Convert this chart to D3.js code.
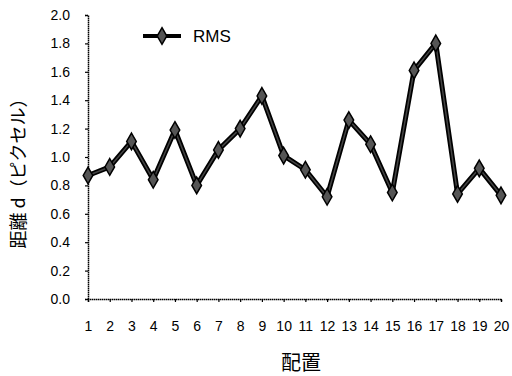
<!DOCTYPE html>
<html>
<head>
<meta charset="utf-8">
<script src="https://cdn.jsdelivr.net/npm/d3@7"></script>
<style>
	body { margin: 0; background: #fff; }
	text { font-family: "Liberation Sans", Arial, sans-serif; fill: #000; }
	.jp { font-family: "Noto Sans CJK JP", sans-serif; }
</style>
</head>
<body>
<div id="chart"></div>
<script>
// placements 1..20 and RMS distance in pixels
const placements = d3.range(1, 21)
const rms = [0.87, 0.93, 1.11, 0.84, 1.19, 0.80, 1.05, 1.20, 1.43, 1.01,
	0.91, 0.72, 1.26, 1.09, 0.75, 1.61, 1.80, 0.74, 0.92, 0.73]
const yTicks = [0, 0.2, 0.4, 0.6, 0.8, 1.0, 1.2, 1.4, 1.6, 1.8, 2.0]
const seriesName = "RMS"

const W = 512, H = 376
const margin = { top: 15, right: 11, bottom: 77, left: 88 }

const svg = d3.select("#chart")
	.append("svg")
	.attr("width", W)
	.attr("height", H)

const g = svg.append("g")
	.attr("transform", `translate(${margin.left},${margin.top})`)

const width = W - margin.left - margin.right
const height = H - margin.top - margin.bottom

const x = d3.scaleLinear().domain([1, 20]).range([0, width])
const y = d3.scaleLinear().domain([0, 2]).range([height, 0])

// y axis
const yAxis = g.append("g")
	.call(d3.axisLeft(y).tickValues(yTicks).tickFormat(d3.format(".1f")).tickSize(3).tickPadding(15))
yAxis.selectAll("text").style("font-size", "14px")

// x axis
const xAxis = g.append("g")
	.attr("transform", `translate(0,${height})`)
	.call(d3.axisBottom(x).tickValues(placements).tickFormat(d3.format("d")).tickSize(3).tickPadding(19))
xAxis.selectAll("text").style("font-size", "14px")

g.selectAll(".domain").attr("stroke", "#000").attr("stroke-width", 1.5).attr("stroke-dasharray", "1.5,0.5")
g.selectAll(".tick line").attr("stroke", "#000").attr("stroke-width", 1.2)

// line
const line = d3.line()
	.x((d, i) => x(placements[i]))
	.y(d => y(d))

g.append("path")
	.datum(rms)
	.attr("fill", "none")
	.attr("stroke", "#000")
	.attr("stroke-width", 5)
	.attr("stroke-linejoin", "round")
	.attr("d", line)
g.append("path")
	.datum(rms)
	.attr("fill", "none")
	.attr("stroke", "#444")
	.attr("stroke-width", 1.5)
	.attr("stroke-linejoin", "round")
	.attr("d", line)

const diamond = d3.symbol().type(d3.symbolDiamond).size(80)

g.selectAll(".pt")
	.data(rms)
	.enter()
	.append("path")
	.attr("class", "pt")
	.attr("d", diamond)
	.attr("transform", (d, i) => `translate(${x(placements[i])},${y(d)})`)
	.attr("fill", "#555")
	.attr("stroke", "#000")
	.attr("stroke-width", 1.5)

// legend
const legend = svg.append("g").attr("transform", "translate(143,36)")
legend.append("line")
	.attr("x1", 0).attr("x2", 38)
	.attr("stroke", "#000").attr("stroke-width", 4)
legend.append("path")
	.attr("d", diamond)
	.attr("transform", "translate(19,0)")
	.attr("fill", "#555").attr("stroke", "#000").attr("stroke-width", 1.5)
legend.append("text")
	.attr("x", 50).attr("y", 6)
	.style("font-size", "17px")
	.text(seriesName)

// axis titles
svg.append("text")
	.attr("class", "jp")
	.attr("x", 301).attr("y", 370)
	.attr("text-anchor", "middle")
	.style("font-size", "20px")
	.text("配置")

svg.append("text")
	.attr("class", "jp")
	.attr("transform", "translate(25,169) rotate(-90)")
	.attr("text-anchor", "middle")
	.style("font-size", "18px")
	.text("距離 d（ピクセル）")
</script>
</body>
</html>
